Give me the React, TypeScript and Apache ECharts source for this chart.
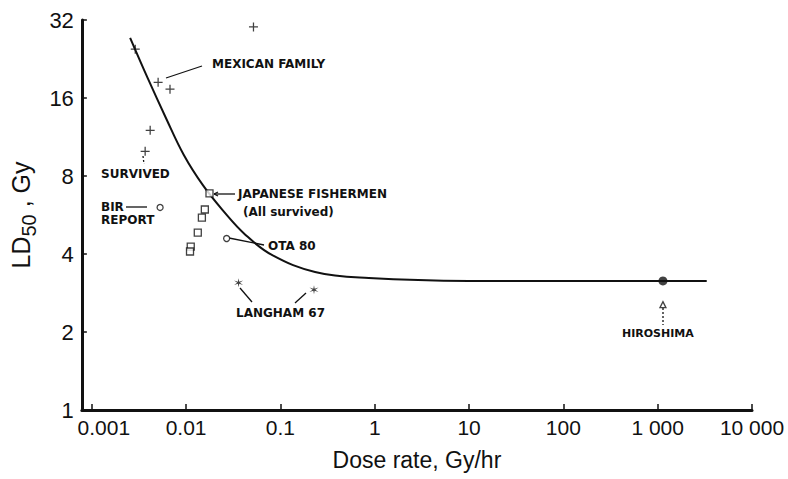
import React, { useEffect, useRef } from 'react';
import * as echarts from 'echarts';

// ---- tick labels ----
const xTickLabels = ['0.001', '0.01', '0.1', '1', '10', '100', '1 000', '10 000'];
const yTickLabels = ['1', '2', '4', '8', '16', '32'];

// ---- fitted curve (Gy/hr, Gy) ----
const curveX = [0.00255, 0.00395, 0.00611, 0.00946, 0.015, 0.02438, 0.0427, 0.082, 0.233, 0.865, 10, 1137, 3311];
const curveY = [27.3, 18.95, 13.4, 9.64, 7.39, 5.91, 4.74, 3.96, 3.41, 3.23, 3.15, 3.15, 3.15];

// ---- data points ----
const plusX = [0.0518, 0.00505, 0.00675, 0.00416, 0.00368, 0.00289];
const plusY = [30.1, 18.4, 17.3, 12.0, 9.96, 24.7];

const squareX = [0.0177, 0.0158, 0.0147, 0.0133, 0.0112, 0.011];
const squareY = [6.85, 5.94, 5.53, 4.84, 4.27, 4.09];

const circleX = [0.0053, 0.0269];
const circleY = [6.05, 4.59];

const asteriskX = [0.036, 0.227];
const asteriskY = [3.1, 2.91];

const filledX = [1137];
const filledY = [3.15];

const triangleX = [1137];
const triangleY = [2.55];

const zip = (xs: number[], ys: number[]) => xs.map((x, i) => [x, ys[i]]);

const PLUS = 'path://M4.3,0h1.4v4.3h4.3v1.4h-4.3v4.3h-1.4v-4.3h-4.3v-1.4h4.3z';
const STAR = 'path://M5,0L5.65,3.87L9.33,2.5L6.3,5L9.33,7.5L5.65,6.13L5,10L4.35,6.13L0.67,7.5L3.7,5L0.67,2.5L4.35,3.87Z';

const INK = '#111';
const FONT = 'Liberation Sans, Arial, sans-serif';
const ANN_FONT = 'bold 12px "DejaVu Sans"';

const txt = (text: string, x: number, y: number, font = ANN_FONT) => ({
  type: 'text',
  x,
  y,
  silent: true,
  style: { text, fill: INK, font, align: 'left', verticalAlign: 'middle' },
});
const ln = (x1: number, y1: number, x2: number, y2: number, dash?: number[]) => ({
  type: 'line',
  silent: true,
  shape: { x1, y1, x2, y2 },
  style: { stroke: INK, lineWidth: 1.3, lineDash: dash || null },
});

export default function App() {
  const ref = useRef<HTMLDivElement>(null);
  useEffect(() => {
    if (!ref.current) return;
    const chart = echarts.init(ref.current, null, { renderer: 'svg' });
    const hollow = { color: '#fff', borderColor: INK, borderWidth: 1.3 };
    chart.setOption({
      animation: false,
      backgroundColor: '#fff',
      grid: { left: 78, right: 36, top: 20, bottom: 69, containLabel: false },
      xAxis: {
        type: 'log',
        logBase: 10,
        min: 0.000785,
        max: 10000,
        name: 'Dose rate, Gy/hr',
        nameLocation: 'middle',
        nameGap: 38,
        nameTextStyle: { fontSize: 23, color: INK, fontFamily: FONT },
        axisLine: { lineStyle: { color: INK, width: 3 } },
        axisTick: { inside: true, length: 6, lineStyle: { color: INK, width: 1.5 } },
        splitLine: { show: false },
        axisLabel: {
          showMinLabel: false,
          margin: 7,
          fontSize: 21,
          color: INK,
          fontFamily: FONT,
          rich: {
            s: { fontSize: 21, color: INK, fontFamily: FONT, padding: [0, 0, 0, 24] },
          },
          formatter: (v: number) => {
            const e = Math.round(Math.log10(v));
            const t = xTickLabels[e + 3] ?? '';
            return e === -3 ? `{s|${t}}` : t;
          },
        },
      },
      yAxis: {
        type: 'log',
        logBase: 2,
        min: 1,
        max: 32,
        name: '{a|LD}{b|50}{a| , Gy}',
        nameLocation: 'middle',
        nameRotate: 90,
        nameGap: 38,
        nameTextStyle: {
          color: INK,
          fontFamily: FONT,
          rich: {
            a: { fontSize: 25, lineHeight: 36, verticalAlign: 'middle', color: INK, fontFamily: FONT },
            b: { fontSize: 20, lineHeight: 16, verticalAlign: 'bottom', color: INK, fontFamily: FONT },
          },
        },
        axisLine: { lineStyle: { color: INK, width: 3 } },
        axisTick: { inside: true, length: 5, lineStyle: { color: INK, width: 1.5 } },
        splitLine: { show: false },
        axisLabel: {
          margin: 8,
          fontSize: 22,
          color: INK,
          fontFamily: FONT,
          formatter: (v: number) => {
            const e = Math.round(Math.log2(v));
            return yTickLabels[e] ?? '';
          },
        },
      },
      series: [
        {
          type: 'line',
          data: zip(curveX, curveY),
          smooth: 0.4,
          showSymbol: false,
          lineStyle: { color: INK, width: 2 },
          z: 2,
        },
        { type: 'scatter', data: zip(plusX, plusY), symbol: PLUS, symbolSize: 9, itemStyle: { color: INK }, z: 3 },
        { type: 'scatter', data: zip(squareX, squareY), symbol: 'rect', symbolSize: 7, itemStyle: hollow, z: 3 },
        { type: 'scatter', data: zip(circleX, circleY), symbol: 'circle', symbolSize: 6, itemStyle: hollow, z: 3 },
        { type: 'scatter', data: zip(asteriskX, asteriskY), symbol: STAR, symbolSize: 9, itemStyle: { color: INK }, z: 3 },
        { type: 'scatter', data: zip(filledX, filledY), symbol: 'circle', symbolSize: 9, itemStyle: { color: INK }, z: 3 },
        { type: 'scatter', data: zip(triangleX, triangleY), symbol: 'triangle', symbolSize: 6, itemStyle: hollow, z: 3 },
      ],
      graphic: [
        txt('MEXICAN FAMILY', 212, 64),
        ln(166, 78, 202, 66),
        txt('SURVIVED', 101, 174),
        ln(143, 156, 144, 164, [2, 2]),
        txt('BIR', 101, 207),
        txt('REPORT', 101, 220),
        ln(126, 207, 147, 207),
        txt('JAPANESE FISHERMEN', 238, 194),
        txt('(All survived)', 243, 212),
        ln(214, 194, 235, 194),
        ln(214, 194, 218, 192),
        ln(214, 194, 218, 196),
        txt('OTA 80', 268, 246),
        ln(229, 238, 264, 245),
        txt('LANGHAM 67', 236, 313),
        ln(240, 288, 252, 302),
        ln(295, 303, 306, 293),
        txt('HIROSHIMA', 622, 333, 'bold 11px "DejaVu Sans"'),
        ln(663, 308, 663, 325, [2, 2]),
      ],
    });
    return () => chart.dispose();
  }, []);
  return <div ref={ref} style={{ width: 788, height: 479, position: 'absolute', left: 0, top: 0 }} />;
}
